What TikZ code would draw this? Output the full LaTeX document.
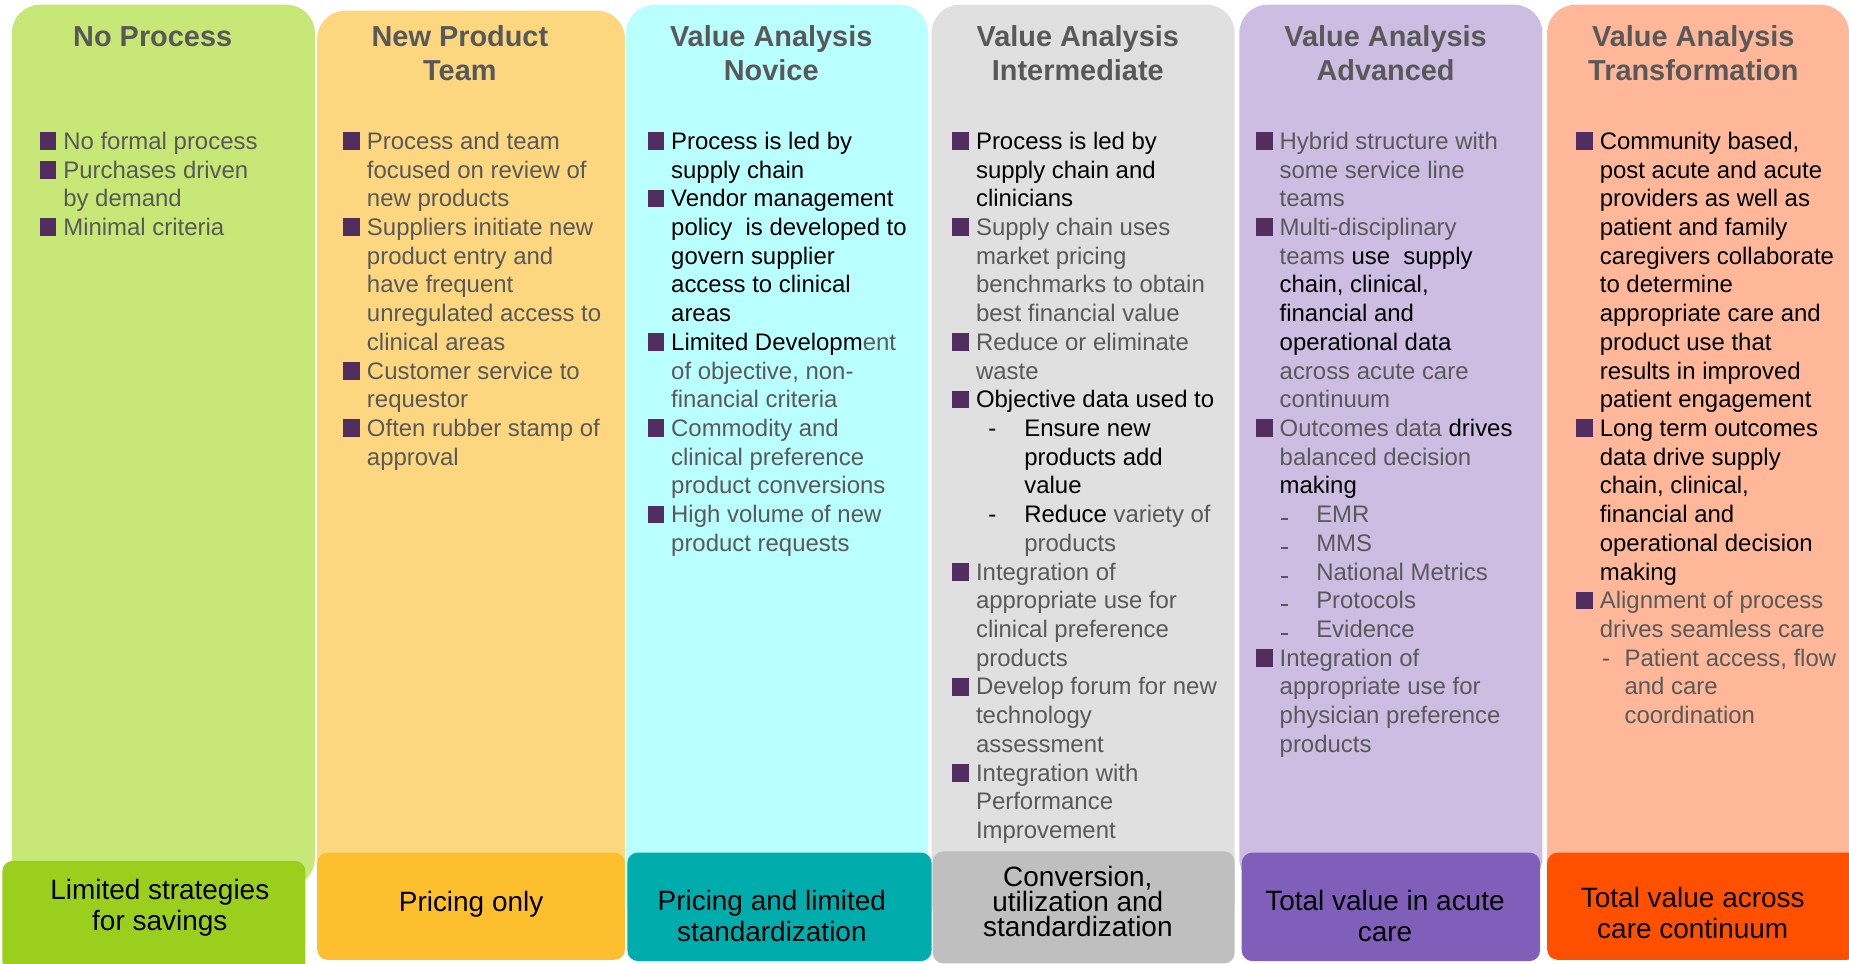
\documentclass[tikz,border=0pt]{standalone}
\usepackage{fontspec}
\setmainfont{Liberation Sans}

\definecolor{txtgrey}{HTML}{595959}
\definecolor{bulpurple}{HTML}{522E60}
\definecolor{colgreen}{HTML}{C7E876}
\definecolor{colorange}{HTML}{FDD780}
\definecolor{colcyan}{HTML}{BAFFFF}
\definecolor{colgrey}{HTML}{E0E0E0}
\definecolor{colpurple}{HTML}{CDBDE2}
\definecolor{colsalmon}{HTML}{FEB798}
\definecolor{boxgreen}{HTML}{9BCF1E}
\definecolor{boxorange}{HTML}{FDBF2D}
\definecolor{boxteal}{HTML}{00ADAC}
\definecolor{boxgrey}{HTML}{BFBFBF}
\definecolor{boxpurple}{HTML}{805FBA}
\definecolor{boxred}{HTML}{FF5000}

% square bullet, plain indent, black words, dashes
\newcommand{\sqbul}{\makebox[20pt][l]{\rule{0pt}{15pt}\textcolor{bulpurple}{\rule[-0.5pt]{14.2pt}{15pt}}}}
\newcommand{\indt}{\hspace*{20pt}}
\newcommand{\bk}[1]{\textcolor{black}{#1}}
\newcommand{\subdash}[2]{\makebox[#2][l]{\hspace*{#1}-}}
\newcommand{\lowdash}{\makebox[31pt][l]{\hspace*{1pt}\rule[2pt]{6pt}{1.8pt}}}

\begin{document}
\begin{tikzpicture}[x=1pt,y=-1pt,
	head/.style={anchor=north, align=center, inner sep=0pt, text=txtgrey,
		font=\bfseries\fontsize{24.5}{28.2}\selectfont},
	body/.style={anchor=north west, align=left, inner sep=0pt, text=txtgrey,
		font=\fontsize{20.3}{24.35}\selectfont},
	tag/.style={anchor=north, align=center, inner sep=0pt, text=black,
		font=\fontsize{23.7}{26.5}\selectfont}]
		\useasboundingbox (0,0) rectangle (1568,817);
		\fill[white] (0,0) rectangle (1568,817);

		% columns
		\fill[colgreen, rounded corners=24pt] (10,4) rectangle (267,752);
		\fill[colorange, rounded corners=24pt] (269,9) rectangle (530,790);
		\fill[colcyan, rounded corners=24pt] (531,4) rectangle (787,790);
		\fill[colgrey, rounded corners=24pt] (790,4) rectangle (1047,790);
		\fill[colpurple, rounded corners=24pt] (1051,4) rectangle (1308,752);
		\fill[colsalmon, rounded corners=24pt] (1312,4) rectangle (1568,790);

		% bottom boxes
		\fill[boxgreen, rounded corners=9pt] (2,730) rectangle (259,824);
		\fill[boxorange, rounded corners=9pt] (269,723) rectangle (530,814);
		\fill[boxteal, rounded corners=9pt] (532,723) rectangle (790,815);
		\fill[boxgrey, rounded corners=9pt] (791,722) rectangle (1047,817);
		\fill[boxpurple, rounded corners=9pt] (1053,723) rectangle (1306,815);
		\fill[boxred, rounded corners=9pt] (1312,723) rectangle (1575,814);

		% headings
		\node[head] (t1) at (129.5,21.6) {\rule{0pt}{18pt}No Process};
		\node[head] (t2) at (390,21.6) {\rule{0pt}{18pt}New Product\\Team};
		\node[head] (t3) at (654,21.6) {\rule{0pt}{18pt}Value Analysis\\Novice};
		\node[head] (t4) at (914,21.6) {\rule{0pt}{18pt}Value Analysis\\Intermediate};
		\node[head] (t5) at (1175,21.6) {\rule{0pt}{18pt}Value Analysis\\Advanced};
		\node[head] (t6) at (1436,21.6) {\rule{0pt}{18pt}Value Analysis\\Transformation};

		% lists
		\node[body] (l1) at (33.5,111.5) {\sqbul No formal process\\
			\sqbul Purchases driven\\
			\indt by demand\\
			\sqbul Minimal criteria};
		\node[body] (l2) at (291,111.5) {\sqbul Process and team\\
			\indt focused on review of\\
			\indt new products\\
			\sqbul Suppliers initiate new\\
			\indt product entry and\\
			\indt have frequent\\
			\indt unregulated access to\\
			\indt clinical areas\\
			\sqbul Customer service to\\
			\indt requestor\\
			\sqbul Often rubber stamp of\\
			\indt approval};
		\node[body] (l3) at (549,111.5) {\sqbul\bk{Process is led by}\\
			\indt\bk{supply chain}\\
			\sqbul\bk{Vendor management}\\
			\indt\bk{policy\ \ is developed to}\\
			\indt\bk{govern supplier}\\
			\indt\bk{access to clinical}\\
			\indt\bk{areas}\\
			\sqbul\bk{Limited Developm}ent\\
			\indt of objective, non-\\
			\indt financial criteria\\
			\sqbul Commodity and\\
			\indt clinical preference\\
			\indt product conversions\\
			\sqbul High volume of new\\
			\indt product requests};
		\node[body] (l4) at (807.5,111.5) {\sqbul\bk{Process is led by}\\
			\indt\bk{supply chain and}\\
			\indt\bk{clinicians}\\
			\sqbul Supply chain uses\\
			\indt market pricing\\
			\indt benchmarks to obtain\\
			\indt best financial value\\
			\sqbul Reduce or eliminate\\
			\indt waste\\
			\sqbul\bk{Objective data used to}\\
			\indt\bk{\subdash{10.5pt}{41pt}Ensure new}\\
			\hspace*{61pt}\bk{products add}\\
			\hspace*{61pt}\bk{value}\\
			\indt\bk{\subdash{10.5pt}{41pt}Reduce} variety of\\
			\hspace*{61pt}products\\
			\sqbul Integration of\\
			\indt appropriate use for\\
			\indt clinical preference\\
			\indt products\\
			\sqbul Develop forum for new\\
			\indt technology\\
			\indt assessment\\
			\sqbul Integration with\\
			\indt Performance\\
			\indt Improvement};
		\node[body] (l5) at (1065,111.5) {\sqbul Hybrid structure with\\
			\indt some service line\\
			\indt teams\\
			\sqbul Multi-disciplinary\\
			\indt teams \bk{use\ \ supply}\\
			\indt\bk{chain, clinical,}\\
			\indt\bk{financial and}\\
			\indt\bk{operational data}\\
			\indt across acute care\\
			\indt continuum\\
			\sqbul Outcomes data \bk{drives}\\
			\indt balanced decision\\
			\indt\bk{making}\\
			\indt\lowdash EMR\\
			\indt\lowdash MMS\\
			\indt\lowdash National Metrics\\
			\indt\lowdash Protocols\\
			\indt\lowdash Evidence\\
			\sqbul Integration of\\
			\indt appropriate use for\\
			\indt physician preference\\
			\indt products};
		\node[body] (l6) at (1336.5,111.5) {\sqbul\bk{Community based,}\\
			\indt\bk{post acute and acute}\\
			\indt\bk{providers as well as}\\
			\indt\bk{patient and family}\\
			\indt\bk{caregivers collaborate}\\
			\indt\bk{to determine}\\
			\indt\bk{appropriate care and}\\
			\indt\bk{product use that}\\
			\indt\bk{results in improved}\\
			\indt\bk{patient engagement}\\
			\sqbul\bk{Long term outcomes}\\
			\indt\bk{data drive supply}\\
			\indt\bk{chain, clinical,}\\
			\indt\bk{financial and}\\
			\indt\bk{operational decision}\\
			\indt\bk{making}\\
			\sqbul Alignment of process\\
			\indt drives seamless care\\
			\indt\subdash{2pt}{21pt}Patient access, flow\\
			\hspace*{41pt}and care\\
			\hspace*{41pt}coordination};

		% savings
		\node[tag] (s1) at (135.5,744.7) {\rule{0pt}{18pt}Limited strategies\\for savings};
		\node[tag] (s2) at (399.5,754.5) {\rule{0pt}{18pt}Pricing only};
		\node[tag] (s3) at (654.5,753.5) {\rule{0pt}{18pt}Pricing and limited\\standardization};
		\node[tag, font=\fontsize{23.7}{21.2}\selectfont] (s4) at (914,733.4) {\rule{0pt}{18pt}Conversion,\\utilization and\\standardization};
		\node[tag] (s5) at (1174.5,753.7) {\rule{0pt}{18pt}Total value in acute\\care};
		\node[tag] (s6) at (1435.5,751.5) {\rule{0pt}{18pt}Total value across\\care continuum};
\end{tikzpicture}
\end{document}
